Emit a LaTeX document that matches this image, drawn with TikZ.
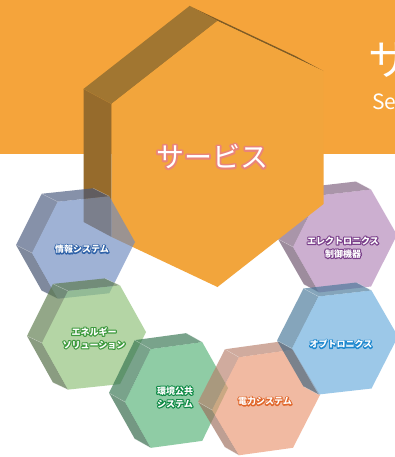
\documentclass[tikz,border=0pt]{standalone}
\usepackage{fontspec}
\setmainfont{Noto Sans CJK JP}
\usetikzlibrary{calc}

\definecolor{bgor}{HTML}{F5A43B}
\definecolor{bigfront}{HTML}{F2A53C}
\definecolor{bigtop}{HTML}{A17631}
\definecolor{bigleft}{HTML}{966B2C}
\definecolor{bigsliver}{HTML}{7F5C26}
\definecolor{servol}{HTML}{EA8479}

\definecolor{infof}{HTML}{6D8AC0}\definecolor{infos}{HTML}{46577C}\definecolor{infol}{HTML}{2F62A8}
\definecolor{elecf}{HTML}{B285B7}\definecolor{elecs}{HTML}{7C5D7C}\definecolor{elecl}{HTML}{7A3F8A}
\definecolor{enerf}{HTML}{8DC075}\definecolor{eners}{HTML}{5A7949}\definecolor{enerl}{HTML}{3E9A3E}
\definecolor{envf}{HTML}{53B176}\definecolor{envs}{HTML}{32724E}\definecolor{envl}{HTML}{0E8A45}
\definecolor{powf}{HTML}{EB9671}\definecolor{pows}{HTML}{B77F6A}\definecolor{powl}{HTML}{E0662A}
\definecolor{optf}{HTML}{68ACDC}\definecolor{opts}{HTML}{457698}\definecolor{optl}{HTML}{1E88CF}

% outlined text: a stroked copy (render mode 2) under a white copy
\newcommand\olb[3][2.2]{%
  \begingroup\leavevmode
  \rlap{\special{pdf:literal direct 2 Tr #1 w 1 j}\color{#2}\begin{tabular}{@{}c@{}}#3\end{tabular}\special{pdf:literal direct 0 Tr 0.4 w 0 j}}%
  \color{white}\begin{tabular}{@{}c@{}}#3\end{tabular}%
  \endgroup}

% small hexagonal prism: prefix, centre, a-vector, b length, offset, front, side
\newcommand\smallhex[7]{%
  \begin{scope}[shift={#2},x={#3},y={(0,#4)}]
    \foreach \n/\u/\v in {R/1/0,TR/0.5/-0.866,TL/-0.5/-0.866,L/-1/0,BL/-0.5/0.866,BR/0.5/0.866}
      {\coordinate (#1f\n) at (\u,\v);}
  \end{scope}
  \begin{scope}[shift={#2},shift={#5},x={#3},y={(0,#4)}]
    \foreach \n/\u/\v in {R/1/0,TR/0.5/-0.866,TL/-0.5/-0.866,L/-1/0,BL/-0.5/0.866,BR/0.5/0.866}
      {\coordinate (#1b\n) at (\u,\v);}
  \end{scope}
  \fill[#7, hexfill] (#1fTL) -- (#1fTR) -- (#1bTR) -- (#1bTL) -- cycle;
  \fill[#7, hexfill] (#1fL) -- (#1fTL) -- (#1bTL) -- (#1bL) -- cycle;
  \fill[#7!85!black, hexfill] (#1fBL) -- (#1fL) -- (#1bL) -- (#1bBL) -- cycle;
  \fill[#6, hexfill] (#1fR) -- (#1fTR) -- (#1fTL) -- (#1fL) -- (#1fBL) -- (#1fBR) -- cycle;
  \draw[rimline] (#1bTL) -- (#1fTL) (#1bL) -- (#1fL) (#1bBL) -- (#1fBL) (#1bTR) -- (#1fTR);
}

\tikzset{
  hexfill/.style={fill opacity=0.65},
  rimline/.style={white, opacity=0.45, line width=0.4pt},
  lbl/.style={inner sep=0pt, font=\fontsize{9}{13}\selectfont\bfseries},
}

\begin{document}
\begin{tikzpicture}[x=1pt,y=-1pt]
\useasboundingbox (0,0) rectangle (395,457);
\fill[white] (0,0) rectangle (395,457);
\fill[bgor] (0,0) rectangle (395,154);

% title at right edge
\node[anchor=base west, inner sep=0pt, text=white, font=\fontsize{42}{42}\selectfont] (ttl) at (368,76) {サ};
\node[anchor=base west, inner sep=0pt, text=white, font=\fontsize{21}{21}\selectfont] (sub) at (372,110) {Se};

% electronics (behind big hexagon)
\smallhex{el}{(345,241)}{(52,-6)}{56}{(-15,-8)}{elecf}{elecs}

% big hexagon
\begin{scope}[shift={(217.5,154)},x={(122.4,-19)},y={(0,133)}]
  \foreach \n/\u/\v in {T/0/-1,UR/0.866/-0.5,LR/0.866/0.5,B/0/1,LL/-0.866/0.5,UL/-0.866/-0.5}
    {\coordinate (gf\n) at (\u,\v);}
\end{scope}
\begin{scope}[shift={(217.5,154)},shift={(-28,-15)},x={(122.4,-19)},y={(0,133)}]
  \foreach \n/\u/\v in {T/0/-1,UR/0.866/-0.5,LR/0.866/0.5,B/0/1,LL/-0.866/0.5,UL/-0.866/-0.5}
    {\coordinate (gb\n) at (\u,\v);}
\end{scope}
\fill[bigtop] (gfT) -- (gfUL) -- (gbUL) -- (gbT) -- cycle;
\fill[bigleft] (gfUL) -- (gfLL) -- (gbLL) -- (gbUL) -- cycle;
\fill[bigsliver] (gfT) -- (gfUR) -- (gbUR) -- (gbT) -- cycle;
\fill[bigfront] (gfT) -- (gfUR) -- (gfLR) -- (gfB) -- (gfLL) -- (gfUL) -- cycle;
\draw[bigtop!80!bgor, line width=0.3pt] (gbT) -- (gfT) (gbUL) -- (gfUL);

% small hexagons
\smallhex{in}{(83.5,247.5)}{(51.5,-5.5)}{56}{(-16,-8)}{infof}{infos}
\smallhex{en}{(94,337.5)}{(52,-5.5)}{57}{(-15,-7)}{enerf}{eners}
\smallhex{ev}{(176.5,395)}{(51.5,-7)}{57}{(-16,-9)}{envf}{envs}
\smallhex{pw}{(266,402.5)}{(54,-7.5)}{56.6}{(-14,-8)}{powf}{pows}
\smallhex{op}{(345,342.5)}{(53,-6)}{56.6}{(-15,-8)}{optf}{opts}

% labels
\node[inner sep=0pt, font=\fontsize{28}{28}\selectfont] (srv) at (212,160) {\olb[3.6]{servol}{サービス}};
\node[lbl] (linfo) at (82,250) {\olb{infol}{情報システム}};
\node[lbl] (lelec) at (343,248) {\olb{elecl}{エレクトロニクス\\制御機器}};
\node[lbl] (lener) at (94,339) {\olb{enerl}{エネルギー\\ソリューション}};
\node[lbl] (lenv) at (175,398) {\olb{envl}{環境公共\\システム}};
\node[lbl] (lpow) at (265,402) {\olb{powl}{電力システム}};
\node[lbl] (lopt) at (341,345) {\olb{optl}{オプトロニクス}};
\end{tikzpicture}
\end{document}
